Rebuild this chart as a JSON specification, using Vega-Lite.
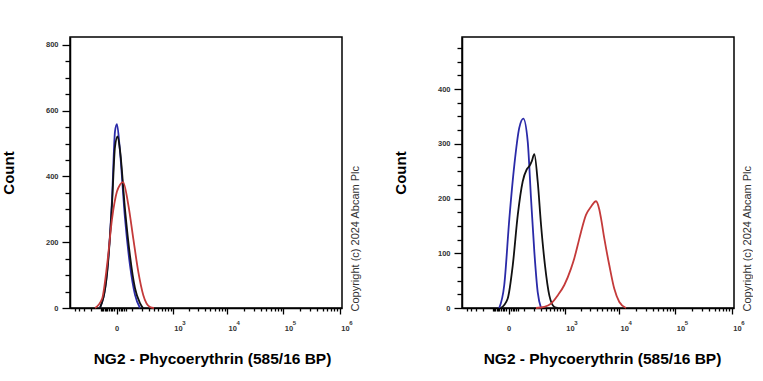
{
  "$schema": "https://vega.github.io/schema/vega-lite/v6.json",
  "background": "white",
  "padding": {"left": 0, "top": 36, "right": 0, "bottom": 0},
  "spacing": 31,
  "config": {
    "font": "Liberation Sans",
    "view": {"stroke": "#000", "strokeWidth": 1.5},
    "axis": {"grid": false, "domainColor": "#000", "domainWidth": 1.5, "tickColor": "#000", "tickWidth": 1.3, "labelFont": "Liberation Sans", "labelFontSize": 7.5, "labelFontWeight": "bold", "labelColor": "#333", "titleFont": "Liberation Sans", "titleColor": "#000", "labelOverlap": false, "labelFlush": false, "labelBound": false}
  },
  "datasets": {
    "left": [
      {"series": "Unlabelled", "value": -107, "count": 0},
      {"series": "Unlabelled", "value": -52, "count": 110},
      {"series": "Unlabelled", "value": -22, "count": 333},
      {"series": "Unlabelled", "value": -7, "count": 537},
      {"series": "Unlabelled", "value": 2, "count": 559},
      {"series": "Unlabelled", "value": 17, "count": 476},
      {"series": "Unlabelled", "value": 46, "count": 272},
      {"series": "Unlabelled", "value": 81, "count": 131},
      {"series": "Unlabelled", "value": 125, "count": 40},
      {"series": "Unlabelled", "value": 178, "count": 0},
      {"series": "Isotype control", "value": -107, "count": 0},
      {"series": "Isotype control", "value": -52, "count": 105},
      {"series": "Isotype control", "value": -22, "count": 320},
      {"series": "Isotype control", "value": -7, "count": 490},
      {"series": "Isotype control", "value": 5, "count": 522},
      {"series": "Isotype control", "value": 17, "count": 480},
      {"series": "Isotype control", "value": 46, "count": 300},
      {"series": "Isotype control", "value": 81, "count": 160},
      {"series": "Isotype control", "value": 125, "count": 60},
      {"series": "Isotype control", "value": 178, "count": 15},
      {"series": "Isotype control", "value": 216, "count": 0},
      {"series": "NG2", "value": -155, "count": 0},
      {"series": "NG2", "value": -89, "count": 28},
      {"series": "NG2", "value": -52, "count": 131},
      {"series": "NG2", "value": -22, "count": 272},
      {"series": "NG2", "value": 2, "count": 354},
      {"series": "NG2", "value": 17, "count": 375},
      {"series": "NG2", "value": 34, "count": 383},
      {"series": "NG2", "value": 69, "count": 313},
      {"series": "NG2", "value": 109, "count": 211},
      {"series": "NG2", "value": 159, "count": 110},
      {"series": "NG2", "value": 220, "count": 39},
      {"series": "NG2", "value": 324, "count": 3},
      {"series": "NG2", "value": 400, "count": 0}
    ],
    "right": [
      {"series": "Unlabelled", "value": -51, "count": 0},
      {"series": "Unlabelled", "value": -21, "count": 42},
      {"series": "Unlabelled", "value": 4, "count": 164},
      {"series": "Unlabelled", "value": 30, "count": 262},
      {"series": "Unlabelled", "value": 61, "count": 329},
      {"series": "Unlabelled", "value": 92, "count": 346},
      {"series": "Unlabelled", "value": 132, "count": 304},
      {"series": "Unlabelled", "value": 167, "count": 200},
      {"series": "Unlabelled", "value": 207, "count": 103},
      {"series": "Unlabelled", "value": 254, "count": 29},
      {"series": "Unlabelled", "value": 307, "count": 0},
      {"series": "Isotype control", "value": -40, "count": 0},
      {"series": "Isotype control", "value": -4, "count": 17},
      {"series": "Isotype control", "value": 21, "count": 78},
      {"series": "Isotype control", "value": 51, "count": 170},
      {"series": "Isotype control", "value": 87, "count": 231},
      {"series": "Isotype control", "value": 122, "count": 253},
      {"series": "Isotype control", "value": 148, "count": 259},
      {"series": "Isotype control", "value": 175, "count": 268},
      {"series": "Isotype control", "value": 207, "count": 281},
      {"series": "Isotype control", "value": 254, "count": 231},
      {"series": "Isotype control", "value": 307, "count": 152},
      {"series": "Isotype control", "value": 380, "count": 78},
      {"series": "Isotype control", "value": 475, "count": 23},
      {"series": "Isotype control", "value": 607, "count": 2},
      {"series": "Isotype control", "value": 714, "count": 0},
      {"series": "NG2", "value": 230, "count": 0},
      {"series": "NG2", "value": 367, "count": 2},
      {"series": "NG2", "value": 517, "count": 8},
      {"series": "NG2", "value": 714, "count": 23},
      {"series": "NG2", "value": 969, "count": 42},
      {"series": "NG2", "value": 1307, "count": 72},
      {"series": "NG2", "value": 1513, "count": 91},
      {"series": "NG2", "value": 1755, "count": 115},
      {"series": "NG2", "value": 2023, "count": 139},
      {"series": "NG2", "value": 2503, "count": 170},
      {"series": "NG2", "value": 3095, "count": 185},
      {"series": "NG2", "value": 3819, "count": 195},
      {"series": "NG2", "value": 4386, "count": 180},
      {"series": "NG2", "value": 4706, "count": 164},
      {"series": "NG2", "value": 5400, "count": 127},
      {"series": "NG2", "value": 6650, "count": 78},
      {"series": "NG2", "value": 8176, "count": 35},
      {"series": "NG2", "value": 10057, "count": 11},
      {"series": "NG2", "value": 13240, "count": 0}
    ]
  },
  "hconcat": [
    {
      "width": 272,
      "height": 271,
      "data": {"name": "left"},
      "resolve": {"axis": {"x": "independent", "y": "independent"}},
      "layer": [
        {
          "transform": [{"filter": "datum.series === 'Unlabelled'"}],
          "mark": {"type": "line", "color": "#2a2aa8", "strokeWidth": 1.8, "interpolate": "monotone"},
          "encoding": {
            "x": {"field": "value", "type": "quantitative",
              "scale": {"type": "symlog", "constant": 111, "domain": [-628, 1090000], "nice": false},
              "axis": {"orient": "bottom",
                "values": [-500, -400, -300, -200, -100, -90, -80, -70, -60, -50, -40, -30, -20, -10, 0, 10, 20, 30, 40, 50, 100, 200, 300, 400, 500, 600, 700, 800, 900, 1000, 2000, 3000, 4000, 5000, 6000, 7000, 8000, 9000, 10000, 20000, 30000, 40000, 50000, 60000, 70000, 80000, 90000, 100000, 200000, 300000, 400000, 500000, 600000, 700000, 800000, 900000, 1000000],
                "labelExpr": "datum.value === 0 ? '0' : indexof([1000, 10000, 100000, 1000000], datum.value) >= 0 ? '10' : ''",
                "labelOffset": {"condition": {"test": "datum.value === 0", "value": 0}, "value": 5},
                "tickSize": {"condition": {"test": "indexof([0, 1000, 10000, 100000, 1000000], datum.value) >= 0", "value": 6}, "value": 3},
                "labelPadding": 10,
                "title": "NG2 - Phycoerythrin (585/16 BP)", "titleFontSize": 15.5, "titleFontWeight": "bold", "titlePadding": 20, "titleX": 142}
            },
            "y": {"field": "count", "type": "quantitative",
              "scale": {"domain": [0, 824], "nice": false},
              "axis": {"orient": "left",
                "values": [0, 50, 100, 150, 200, 250, 300, 350, 400, 450, 500, 550, 600, 650, 700, 750, 800],
                "labelExpr": "datum.value % 200 === 0 ? datum.label : ''",
                "tickSize": {"condition": {"test": "datum.value % 200 === 0", "value": 8}, "value": 5},
                "labelPadding": 4,
                "title": "Count", "titleFontSize": 15, "titleFontWeight": "bold", "titlePadding": 29}
            }
          }
        },
        {
          "transform": [{"filter": "datum.series === 'Isotype control'"}],
          "mark": {"type": "line", "color": "#111111", "strokeWidth": 1.8, "interpolate": "monotone"},
          "encoding": {
            "x": {"field": "value", "type": "quantitative",
              "axis": {"orient": "bottom", "values": [1000, 10000, 100000, 1000000],
                "labelExpr": "datum.value === 1000 ? '3' : datum.value === 10000 ? '4' : datum.value === 100000 ? '5' : '6'",
                "ticks": false, "domain": false, "labelFontSize": 6, "labelOffset": 10.5, "labelPadding": 11, "title": null}
            },
            "y": {"field": "count", "type": "quantitative",
              "axis": {"orient": "right", "ticks": false, "labels": false, "domain": false,
                "title": "Copyright (c) 2024 Abcam Plc", "titleAngle": 270, "titleFontSize": 11, "titleFontWeight": "normal", "titleColor": "#333",
                "titleAlign": "left", "titleBaseline": "top", "titleX": 7, "titleY": 274}
            }
          }
        },
        {
          "transform": [{"filter": "datum.series === 'NG2'"}],
          "mark": {"type": "line", "color": "#c43a3a", "strokeWidth": 1.8, "interpolate": "monotone"},
          "encoding": {
            "x": {"field": "value", "type": "quantitative", "axis": null},
            "y": {"field": "count", "type": "quantitative", "axis": null}
          }
        }
      ]
    },
    {
      "width": 272,
      "height": 271,
      "data": {"name": "right"},
      "resolve": {"axis": {"x": "independent", "y": "independent"}},
      "layer": [
        {
          "transform": [{"filter": "datum.series === 'Unlabelled'"}],
          "mark": {"type": "line", "color": "#2a2aa8", "strokeWidth": 1.8, "interpolate": "monotone"},
          "encoding": {
            "x": {"field": "value", "type": "quantitative",
              "scale": {"type": "symlog", "constant": 111, "domain": [-628, 1090000], "nice": false},
              "axis": {"orient": "bottom",
                "values": [-500, -400, -300, -200, -100, -90, -80, -70, -60, -50, -40, -30, -20, -10, 0, 10, 20, 30, 40, 50, 100, 200, 300, 400, 500, 600, 700, 800, 900, 1000, 2000, 3000, 4000, 5000, 6000, 7000, 8000, 9000, 10000, 20000, 30000, 40000, 50000, 60000, 70000, 80000, 90000, 100000, 200000, 300000, 400000, 500000, 600000, 700000, 800000, 900000, 1000000],
                "labelExpr": "datum.value === 0 ? '0' : indexof([1000, 10000, 100000, 1000000], datum.value) >= 0 ? '10' : ''",
                "labelOffset": {"condition": {"test": "datum.value === 0", "value": 0}, "value": 5},
                "tickSize": {"condition": {"test": "indexof([0, 1000, 10000, 100000, 1000000], datum.value) >= 0", "value": 6}, "value": 3},
                "labelPadding": 10,
                "title": "NG2 - Phycoerythrin (585/16 BP)", "titleFontSize": 15.5, "titleFontWeight": "bold", "titlePadding": 20, "titleX": 140}
            },
            "y": {"field": "count", "type": "quantitative",
              "scale": {"domain": [0, 495], "nice": false},
              "axis": {"orient": "left",
                "values": [0, 25, 50, 75, 100, 125, 150, 175, 200, 225, 250, 275, 300, 325, 350, 375, 400, 425, 450, 475],
                "labelExpr": "datum.value % 100 === 0 ? datum.label : ''",
                "tickSize": {"condition": {"test": "datum.value % 100 === 0", "value": 8}, "value": 5},
                "labelPadding": 4,
                "title": "Count", "titleFontSize": 15, "titleFontWeight": "bold", "titlePadding": 29}
            }
          }
        },
        {
          "transform": [{"filter": "datum.series === 'Isotype control'"}],
          "mark": {"type": "line", "color": "#111111", "strokeWidth": 1.8, "interpolate": "monotone"},
          "encoding": {
            "x": {"field": "value", "type": "quantitative",
              "axis": {"orient": "bottom", "values": [1000, 10000, 100000, 1000000],
                "labelExpr": "datum.value === 1000 ? '3' : datum.value === 10000 ? '4' : datum.value === 100000 ? '5' : '6'",
                "ticks": false, "domain": false, "labelFontSize": 6, "labelOffset": 10.5, "labelPadding": 11, "title": null}
            },
            "y": {"field": "count", "type": "quantitative",
              "axis": {"orient": "right", "ticks": false, "labels": false, "domain": false,
                "title": "Copyright (c) 2024 Abcam Plc", "titleAngle": 270, "titleFontSize": 11, "titleFontWeight": "normal", "titleColor": "#333",
                "titleAlign": "left", "titleBaseline": "top", "titleX": 7, "titleY": 274}
            }
          }
        },
        {
          "transform": [{"filter": "datum.series === 'NG2'"}],
          "mark": {"type": "line", "color": "#c43a3a", "strokeWidth": 1.8, "interpolate": "monotone"},
          "encoding": {
            "x": {"field": "value", "type": "quantitative", "axis": null},
            "y": {"field": "count", "type": "quantitative", "axis": null}
          }
        }
      ]
    }
  ]
}
